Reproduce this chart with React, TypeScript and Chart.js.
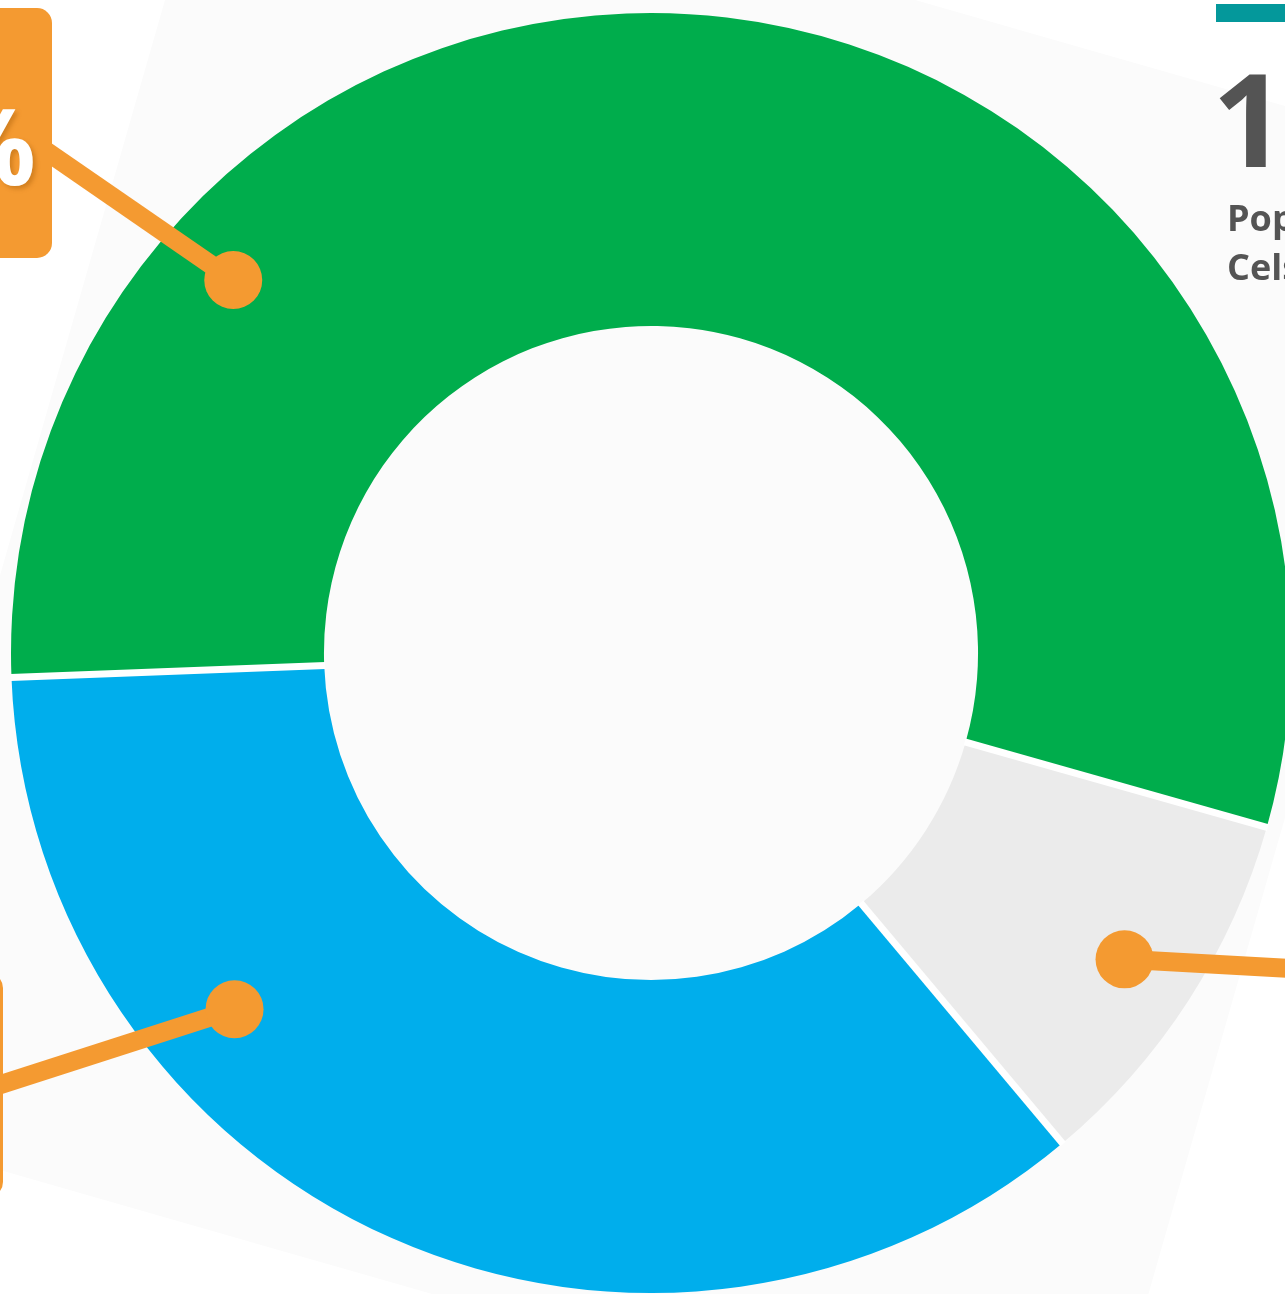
import React, { useEffect, useRef } from "react";
import { Chart, registerables } from "chart.js";

Chart.register(...registerables);

// ---- data ----
const categories = ["Green", "Grey", "Blue"];
const values = [55, 9.5, 35.5];
const colors = ["#00ad4c", "#ebebeb", "#00aeec"];
const topLeftLabel = "55%";
const bigNumber = "1";
const sideLines = ["Population", "Celsius"];

// callouts: where on each slice the dot sits (fraction along arc, radius px), and where the leader goes
const calloutFrac = [0.222, 0.5, 0.7];
const calloutRadius = [560, 564, 548];
const calloutEnd: [number, number][] = [
  [20, 133],
  [1300, 969],
  [-10, 1088],
];

const ORANGE = "#f49a31";
const GAP = 7;

const separatorPlugin = {
  id: "separators",
  afterDatasetsDraw(chart: any) {
    const ctx = chart.ctx;
    const meta = chart.getDatasetMeta(0);
    meta.data.forEach((arc: any) => {
      const { x, y, startAngle, innerRadius, outerRadius } = arc.getProps(
        ["x", "y", "startAngle", "innerRadius", "outerRadius"],
        true
      );
      ctx.save();
      ctx.strokeStyle = "#ffffff";
      ctx.lineWidth = GAP;
      ctx.lineCap = "butt";
      ctx.beginPath();
      ctx.moveTo(x + Math.cos(startAngle) * (innerRadius - 1), y + Math.sin(startAngle) * (innerRadius - 1));
      ctx.lineTo(x + Math.cos(startAngle) * (outerRadius + 1), y + Math.sin(startAngle) * (outerRadius + 1));
      ctx.stroke();
      ctx.restore();
    });
  },
};

const calloutPlugin = {
  id: "callouts",
  afterDatasetsDraw(chart: any) {
    const ctx = chart.ctx;
    const meta = chart.getDatasetMeta(0);
    meta.data.forEach((arc: any, i: number) => {
      const { x, y, startAngle, endAngle } = arc.getProps(
        ["x", "y", "startAngle", "endAngle"],
        true
      );
      const a = startAngle + calloutFrac[i] * (endAngle - startAngle);
      const px = x + Math.cos(a) * calloutRadius[i];
      const py = y + Math.sin(a) * calloutRadius[i];
      const [ex, ey] = calloutEnd[i];
      ctx.save();
      ctx.strokeStyle = ORANGE;
      ctx.lineWidth = 19;
      ctx.lineCap = "butt";
      ctx.beginPath();
      ctx.moveTo(px, py);
      ctx.lineTo(ex, ey);
      ctx.stroke();
      ctx.beginPath();
      ctx.arc(px, py, 29, 0, Math.PI * 2);
      ctx.fillStyle = ORANGE;
      ctx.fill();
      ctx.restore();
    });
  },
};

export default function App() {
  const canvasRef = useRef<HTMLCanvasElement | null>(null);

  useEffect(() => {
    if (!canvasRef.current) return;
    const chart = new Chart(canvasRef.current, {
      type: "doughnut",
      data: {
        labels: categories,
        datasets: [
          {
            data: values,
            backgroundColor: colors,
            borderWidth: 0,
            hoverOffset: 0,
          },
        ],
      },
      options: {
        responsive: false,
        animation: false,
        devicePixelRatio: 1,
        radius: 640,
        cutout: "51.1%",
        rotation: 267.8,
        layout: { padding: 0 },
        plugins: {
          legend: { display: false },
          tooltip: { enabled: false },
        },
      } as any,
      plugins: [separatorPlugin, calloutPlugin],
    });
    return () => chart.destroy();
  }, []);

  const font = "'Open Sans', 'Noto Sans', sans-serif";

  return (
    <div
      style={{
        position: "absolute",
        left: 0,
        top: 0,
        width: 1285,
        height: 1294,
        overflow: "hidden",
        background: "#ffffff",
        fontFamily: font,
      }}
    >
      <div
        style={{
          position: "absolute",
          left: 7,
          top: -46,
          width: 1302,
          height: 1377,
          background: "#fbfbfb",
          transform: "rotate(16deg)",
          transformOrigin: "50% 50%",
        }}
      />
      <canvas
        ref={canvasRef}
        width={1302}
        height={1306}
        style={{ position: "absolute", left: 0, top: 0, width: 1302, height: 1306 }}
      />
      {/* top-left label box */}
      <div
        style={{
          position: "absolute",
          left: -200,
          top: 8,
          width: 252,
          height: 250,
          borderRadius: 15,
          background: ORANGE,
        }}
      />
      <div
        style={{
          position: "absolute",
          right: 1285 - 36,
          top: 91,
          fontSize: 106,
          lineHeight: "106px",
          fontWeight: 700,
          color: "#ffffff",
          whiteSpace: "nowrap",
          textShadow: "3px 3px 4px rgba(150,80,0,0.35)",
        }}
      >
        {topLeftLabel}
      </div>
      {/* bottom-left label box */}
      <div
        style={{
          position: "absolute",
          left: -200,
          top: 973,
          width: 203,
          height: 224,
          borderRadius: 15,
          background: ORANGE,
        }}
      />
      {/* top-right stat */}
      <div
        style={{
          position: "absolute",
          left: 1216,
          top: 4,
          width: 120,
          height: 18,
          background: "#04989b",
        }}
      />
      <div
        style={{
          position: "absolute",
          left: 1212,
          top: 52,
          fontSize: 130,
          lineHeight: "130px",
          fontWeight: 700,
          color: "#545454",
          whiteSpace: "nowrap",
        }}
      >
        {bigNumber}
      </div>
      <div
        style={{
          position: "absolute",
          left: 1227,
          top: 193,
          fontSize: 36,
          lineHeight: "49px",
          fontWeight: 700,
          color: "#545454",
          whiteSpace: "nowrap",
        }}
      >
        {sideLines.map((t) => (
          <div key={t}>{t}</div>
        ))}
      </div>
    </div>
  );
}
